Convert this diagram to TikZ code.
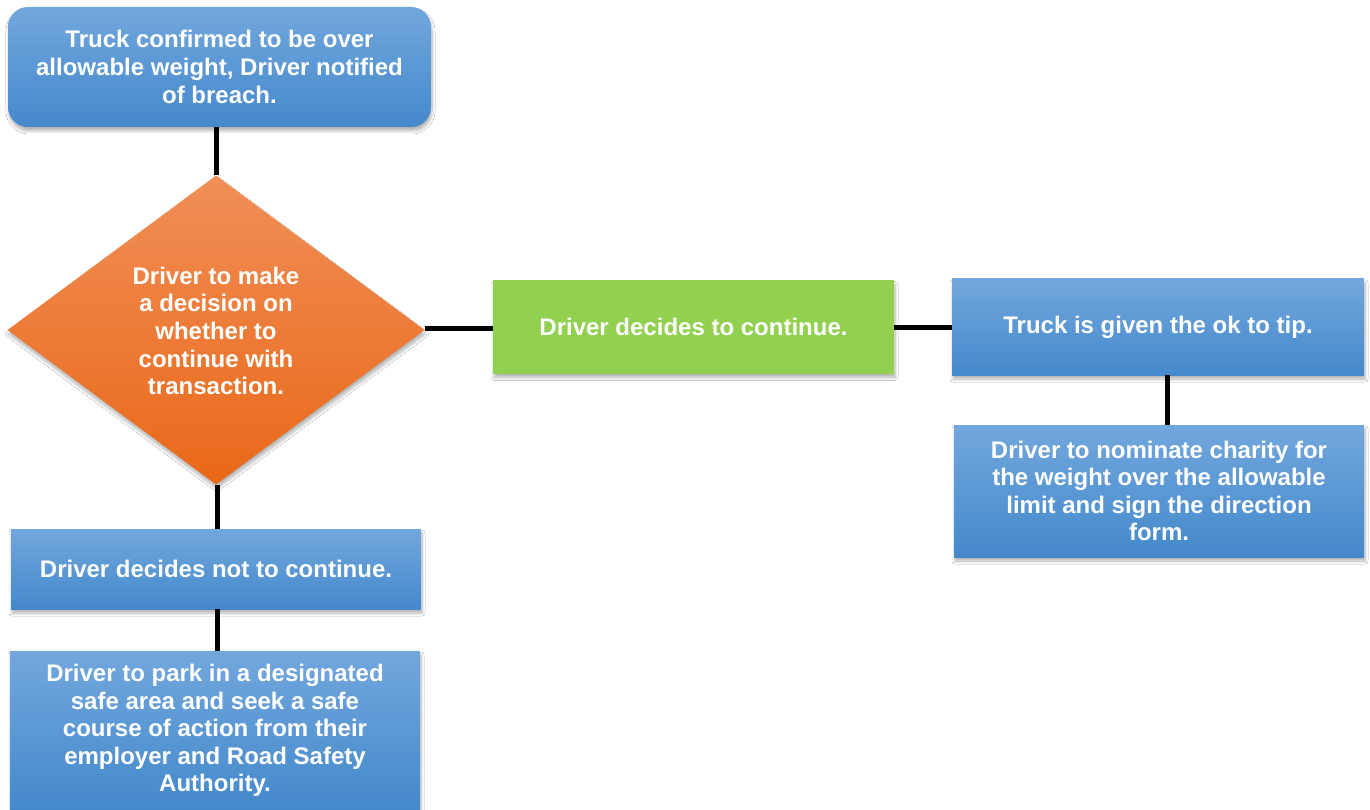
\documentclass[tikz,border=0pt]{standalone}
\usepackage{fontspec}
\setmainfont{Liberation Sans}
\usetikzlibrary{shapes.geometric,shadows.blur,calc}
\definecolor{bluetop}{RGB}{114,167,221}
\definecolor{bluebot}{RGB}{68,137,203}
\definecolor{orgtop}{RGB}{241,143,88}
\definecolor{orgbot}{RGB}{233,104,24}
\definecolor{grn}{RGB}{146,208,80}
\tikzset{
  txt/.style={text=white, font=\fontsize{24}{27.6}\selectfont\bfseries, align=center, inner sep=0pt},
  shad/.style={blur shadow={shadow xshift=1pt, shadow yshift=-4pt, shadow blur radius=3pt, shadow opacity=30, shadow blur steps=8}},
  bluebox/.style={txt, shad, rectangle, top color=bluetop, bottom color=bluebot, draw=none},
  decbox/.style={txt, shad, diamond, top color=orgtop, bottom color=orgbot, draw=none},
  grnbox/.style={txt, shad, rectangle, fill=grn, draw=none},
  conn/.style={line width=5pt, black}
}
\begin{document}
\begin{tikzpicture}[x=1pt,y=-1pt]
\useasboundingbox[fill=white] (0,0) rectangle (1370,810);
\node[bluebox, rounded corners=20pt, minimum width=423pt, minimum height=120pt] (top) at (219.5,67)
  {Truck confirmed to be over\\allowable weight, Driver notified\\of breach.};
\node[decbox, minimum width=417pt, minimum height=309pt] (dec) at (216,330)
  {\raisebox{-4pt}[\height][\depth]{\begin{tabular}{@{}c@{}}Driver to make\\a decision on\\whether to\\continue with\\transaction.\end{tabular}}};
\node[grnbox, minimum width=401pt, minimum height=93pt] (cont) at (693.5,327)
  {Driver decides to continue.};
\node[bluebox, minimum width=412pt, minimum height=96pt] (tip) at (1158,327)
  {Truck is given the ok to tip.};
\node[bluebox, minimum width=410pt, minimum height=132pt] (charity) at (1159,491)
  {Driver to nominate charity for\\the weight over the allowable\\limit and sign the direction\\form.};
\node[bluebox, minimum width=410pt, minimum height=80pt] (notc) at (216,569)
  {Driver decides not to continue.};
\node[bluebox, minimum width=410pt, minimum height=159pt] (park) at (215,730.5)
  {Driver to park in a designated\\safe area and seek a safe\\course of action from their\\employer and Road Safety\\Authority.};
\draw[conn] (dec.north |- top.south) -- (dec.north);
\draw[conn] ([yshift=2pt]dec.east) -- ([yshift=2pt]dec.east -| cont.west);
\draw[conn] (cont.east) -- (tip.west);
\draw[conn] ([xshift=9pt]tip.south) -- ([xshift=9pt]tip.south |- charity.north);
\draw[conn] ([xshift=1pt]dec.south) -- ([xshift=1pt]dec.south |- notc.north);
\draw[conn] ([xshift=1pt]notc.south) -- ([xshift=1pt]notc.south |- park.north);
\end{tikzpicture}
\end{document}
